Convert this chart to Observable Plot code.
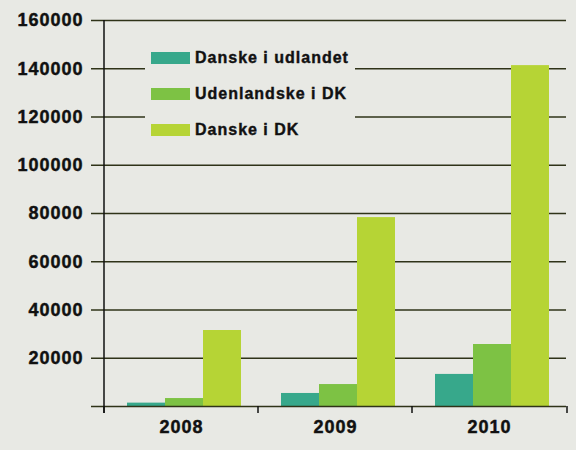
<!DOCTYPE html>
<html><head><meta charset="utf-8">
<script src="https://cdn.jsdelivr.net/npm/d3@7"></script>
<script src="https://cdn.jsdelivr.net/npm/@observablehq/plot@0.6"></script>
<style>
html,body{margin:0;padding:0;background:#e8e9e4;}
#wrap{position:relative;width:576px;height:450px;overflow:hidden;}
#wrap svg text{stroke:#111;stroke-width:0.45px;}
.legend{position:absolute;left:145px;top:36px;width:210px;height:112px;background:#e8e9e4;font:bold 16px "Liberation Sans",Arial,sans-serif;letter-spacing:1px;color:#111;-webkit-text-stroke:0.4px #111;}
.item{position:absolute;left:6px;height:20px;line-height:20px;white-space:nowrap;}
.sw{display:inline-block;width:39px;height:12px;vertical-align:middle;margin-right:5px;position:relative;top:-1px;-webkit-text-stroke:0;}
</style>
</head><body>
<div id="wrap"></div>
<script>
const years = ["2008", "2009", "2010"];
const series = ["Danske i udlandet", "Udenlandske i DK", "Danske i DK"];
const danskeIUdlandet = [1400, 5400, 13300];
const udenlandskeIDK = [3300, 9100, 25700];
const danskeIDK = [31500, 78300, 141300];
const colors = ["#37a88b", "#7dc244", "#b6d435"];
const yTicks = [0, 20000, 40000, 60000, 80000, 100000, 120000, 140000, 160000];

const valuesBySeries = [danskeIUdlandet, udenlandskeIDK, danskeIDK];
const table = [];
years.forEach((yr, i) => series.forEach((s, j) => table.push({year: yr, series: s, value: valuesBySeries[j][i]})));

const ink = "#2f3318";
const plot = Plot.plot({
  width: 576, height: 450,
  marginLeft: 103, marginRight: 9, marginTop: 20, marginBottom: 44,
  style: {background: "transparent", fontFamily: "'Liberation Sans', Arial, sans-serif", fontSize: "18px", fontWeight: "bold", letterSpacing: "1px", color: "#111", overflow: "visible"},
  fx: {domain: years, padding: 0, label: null},
  x: {domain: series, paddingInner: 0, paddingOuter: 0.518, align: 0.58, axis: null},
  y: {domain: [0, 160000], label: null},
  color: {domain: series, range: colors},
  marks: [
    Plot.gridY(yTicks.slice(1), {stroke: ink, strokeOpacity: 1, strokeWidth: 1.5}),
    Plot.axisY(yTicks, {tickSize: 13, tickPadding: 8, tickFormat: d => d === 0 ? "" : String(d), label: null, stroke: ink, strokeWidth: 1.5, fill: "#111"}),
    Plot.barY(table, {fx: "year", x: "series", y: "value", fill: "series"}),
    Plot.ruleY([0], {stroke: ink, strokeWidth: 1.5}),
    Plot.axisFx({anchor: "bottom", tickSize: 0, tickPadding: 14, label: null, fill: "#111"})
  ]
});

document.getElementById("wrap").appendChild(plot);

// axis line and boundary ticks derived from the library's scales
const fx = plot.scale("fx");
const ys = plot.scale("y");
const svg = d3.select(plot.tagName.toLowerCase() === "svg" ? plot : plot.querySelector("svg"));
const y0 = ys.apply(0), yTop = ys.apply(160000);
const bounds = years.map(yr => fx.apply(yr)).concat([fx.range[1]]);
const g = svg.append("g").attr("stroke", "#111").attr("stroke-width", 1.5);
g.append("line").attr("x1", bounds[0]).attr("x2", bounds[0]).attr("y1", yTop).attr("y2", y0 + 7);
bounds.forEach(b => g.append("line").attr("x1", b).attr("x2", b).attr("y1", y0).attr("y2", y0 + 7));

// legend
const legend = document.createElement("div");
legend.className = "legend";
series.forEach((s, i) => {
  const it = document.createElement("div");
  it.className = "item";
  it.style.top = (12 + i * 36) + "px";
  it.innerHTML = `<span class="sw" style="background:${colors[i]}"></span>${s}`;
  legend.appendChild(it);
});
document.getElementById("wrap").appendChild(legend);
</script>
</body></html>
